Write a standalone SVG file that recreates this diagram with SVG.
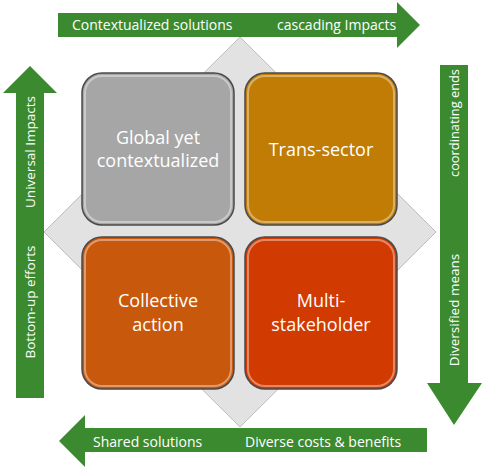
<svg xmlns="http://www.w3.org/2000/svg" width="484" height="470" viewBox="0 0 484 470">
<defs>
<style>
.arrow{fill:#3C8A30;}
.atxt{font-family:"Open Sans","DejaVu Sans",sans-serif;font-size:14px;fill:#ffffff;}
.vtxt{font-family:"Open Sans","DejaVu Sans",sans-serif;font-size:13.5px;fill:#ffffff;text-anchor:middle;}
.btxt{font-family:"Open Sans","DejaVu Sans",sans-serif;font-size:18px;fill:#ffffff;text-anchor:middle;}
.box{stroke:#4a4a4a;stroke-width:1.5;}
.gloss{fill:none;stroke:#ffffff;stroke-opacity:0.4;stroke-width:2;}
</style>
</defs>
<rect width="484" height="470" fill="#ffffff"/>
<g id="diamond">
<polygon points="240,37 436,232 240,427 44,232" fill="#e2e2e2" stroke="#bdbdbd" stroke-width="1"/>
</g>
<g id="connectors">
<g id="arrow-top">
<polygon class="arrow" points="58,13 397,13 397,2 420,25 397,48 397,37 58,37"/>
<text class="atxt" x="72" y="30">Contextualized solutions</text>
<text class="atxt" x="277" y="30">cascading Impacts</text>
</g>
<g id="arrow-left">
<polygon class="arrow" points="16,398 16,93 3,93 30,66 57,93 44,93 44,398"/>
<text class="vtxt" transform="translate(35,152) rotate(-90)">Universal Impacts</text>
<text class="vtxt" transform="translate(35,302) rotate(-90)">Bottom-up efforts</text>
</g>
<g id="arrow-right">
<polygon class="arrow" points="440,65 468,65 468,383 482,383 454,425 427,383 440,383"/>
<text class="vtxt" transform="translate(459,123) rotate(-90)" textLength="108" lengthAdjust="spacingAndGlyphs">coordinating ends</text>
<text class="vtxt" transform="translate(459,310) rotate(-90)">Diversified means</text>
</g>
<g id="arrow-bottom">
<polygon class="arrow" points="427,428 427,452 85,452 85,467 59,441 85,415 85,428"/>
<text class="atxt" x="93" y="447">Shared solutions</text>
<text class="atxt" x="245" y="447">Diverse costs &amp; benefits</text>
</g>
</g>
<g id="global">
<rect class="box" x="82" y="73" width="152" height="152" rx="20" fill="#a6a6a6"/>
<rect class="gloss" x="85" y="76" width="146" height="146" rx="17"/>
<text class="btxt" x="158" y="144">Global yet</text>
<text class="btxt" x="158" y="167">contextualized</text>
</g>
<g id="trans">
<rect class="box" x="245" y="73" width="152" height="152" rx="20" fill="#c07c04"/>
<rect class="gloss" x="248" y="76" width="146" height="146" rx="17"/>
<text class="btxt" x="321" y="156">Trans-sector</text>
</g>
<g id="collective">
<rect class="box" x="82" y="237" width="152" height="152" rx="20" fill="#c8580c"/>
<rect class="gloss" x="85" y="240" width="146" height="146" rx="17"/>
<text class="btxt" x="158" y="307">Collective</text>
<text class="btxt" x="158" y="331">action</text>
</g>
<g id="multi">
<rect class="box" x="245" y="237" width="152" height="152" rx="20" fill="#d13a00"/>
<rect class="gloss" x="248" y="240" width="146" height="146" rx="17"/>
<text class="btxt" x="321" y="307">Multi-</text>
<text class="btxt" x="321" y="331">stakeholder</text>
</g>
</svg>
